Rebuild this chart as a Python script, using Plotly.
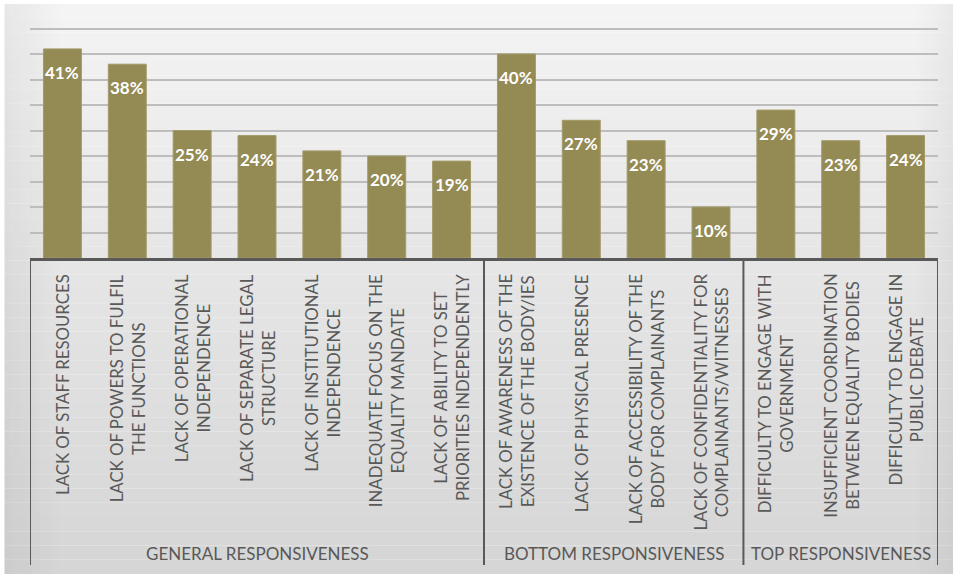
import plotly.graph_objects as go

categories = [
    "LACK OF STAFF RESOURCES",
    "LACK OF POWERS TO FULFIL<br>THE FUNCTIONS",
    "LACK OF OPERATIONAL<br>INDEPENDENCE",
    "LACK OF SEPARATE LEGAL<br>STRUCTURE",
    "LACK OF INSTITUTIONAL<br>INDEPENDENCE",
    "INADEQUATE FOCUS ON THE<br>EQUALITY MANDATE",
    "LACK OF ABILITY TO SET<br>PRIORITIES INDEPENDENTLY",
    "LACK OF AWARENESS OF THE<br>EXISTENCE OF THE BODY/IES",
    "LACK OF PHYSICAL PRESENCE",
    "LACK OF ACCESSIBILITY OF THE<br>BODY FOR COMPLAINANTS",
    "LACK OF CONFIDENTIALITY FOR<br>COMPLAINANTS/WITNESSES",
    "DIFFICULTY TO ENGAGE WITH<br>GOVERNMENT",
    "INSUFFICIENT COORDINATION<br>BETWEEN EQUALITY BODIES",
    "DIFFICULTY TO ENGAGE IN<br>PUBLIC DEBATE",
]
values = [41, 38, 25, 24, 21, 20, 19, 40, 27, 23, 10, 29, 23, 24]
groups = ["GENERAL RESPONSIVENESS", "BOTTOM RESPONSIVENESS", "TOP RESPONSIVENESS"]
group_sizes = [7, 4, 3]

W, H = 953, 574
ml, mr, mt, mb = 29.5, 15, 3, 316
pw, ph = W - ml - mr, H - mt - mb

fig = go.Figure()
fig.add_trace(go.Bar(
    x=list(range(len(categories))), y=values,
    marker=dict(color="#948A54", line=dict(color="#A39A68", width=1)),
    width=0.585, hoverinfo="skip",
))

shapes = []
# background gradient (decoration)
n = 40
top_c = (244, 244, 244)
bot_c = (214, 214, 214)
frame = 4
fx0, fx1 = -(ml - frame) / pw, 1 + mr / pw
fy0, fy1 = -mb / ph, 1 + (mt - frame) / ph
for i in range(n):
    t = i / (n - 1)
    c = tuple(int(top_c[k] + (bot_c[k] - top_c[k]) * t) for k in range(3))
    y1 = fy1 - (fy1 - fy0) * i / n
    y0 = fy1 - (fy1 - fy0) * (i + 1) / n
    shapes.append(dict(type="rect", xref="paper", yref="paper", x0=fx0, x1=fx1,
                       y0=y0, y1=y1, fillcolor="rgb(%d,%d,%d)" % c,
                       line=dict(width=0), layer="below"))
# side shading
m = 12
for i in range(m):
    a = 0.10 * (1 - i / m)
    xl0 = fx0 + (0.06) * i / m
    xl1 = fx0 + (0.06) * (i + 1) / m
    shapes.append(dict(type="rect", xref="paper", yref="paper", x0=xl0, x1=xl1,
                       y0=fy0, y1=fy1, fillcolor="rgba(120,120,120,%.3f)" % a,
                       line=dict(width=0), layer="below"))
    xr1 = fx1 - (0.04) * i / m
    xr0 = fx1 - (0.04) * (i + 1) / m
    shapes.append(dict(type="rect", xref="paper", yref="paper", x0=xr0, x1=xr1,
                       y0=fy0, y1=fy1, fillcolor="rgba(120,120,120,%.3f)" % (a * 0.8),
                       line=dict(width=0), layer="below"))

# group boxes
box_bottom = -(565 - 258) / ph
bounds = [-0.5]
for s in group_sizes:
    bounds.append(bounds[-1] + s)
for b in bounds:
    shapes.append(dict(type="line", xref="x", yref="paper", x0=b, x1=b,
                       y0=0, y1=box_bottom, line=dict(color="#595959", width=2)))

annotations = []
for i, (c, v) in enumerate(zip(categories, values)):
    annotations.append(dict(x=i, y=v, xref="x", yref="y", text="<b>%d%%</b>" % v,
                            showarrow=False, yanchor="top", yshift=-11,
                            font=dict(family="Lato", size=17, color="white")))
    annotations.append(dict(x=i, y=-(272 - 258) / ph, xref="x", yref="paper", text=c,
                            showarrow=False, textangle=-90, yanchor="top", xanchor="center",
                            align="center",
                            font=dict(family="Lato", size=16.8, color="#595959")))
for g, a, b in zip(groups, bounds[:-1], bounds[1:]):
    annotations.append(dict(x=(a + b) / 2, y=-(553 - 258) / ph, xref="x", yref="paper",
                            text=g, showarrow=False, yanchor="middle",
                            font=dict(family="Lato", size=17, color="#595959")))

fig.update_layout(
    width=W, height=H,
    margin=dict(l=ml, r=mr, t=mt, b=mb),
    paper_bgcolor="#ffffff", plot_bgcolor="rgba(0,0,0,0)",
    showlegend=False, bargap=0.4,
    shapes=shapes, annotations=annotations,
    xaxis=dict(range=[-0.5, 13.5], showticklabels=False, showgrid=False, ticks="",
               showline=True, linecolor="#595959", linewidth=2.5, zeroline=False, fixedrange=True),
    yaxis=dict(range=[0, 50], dtick=5, showticklabels=False, showgrid=True,
               gridcolor="#BDBDBD", gridwidth=1.5, zeroline=False, ticks="", fixedrange=True),
)
fig.write_html("out.html", config={"displayModeBar": False},
               post_script="document.body.style.margin='0';document.body.style.overflow='hidden';")
